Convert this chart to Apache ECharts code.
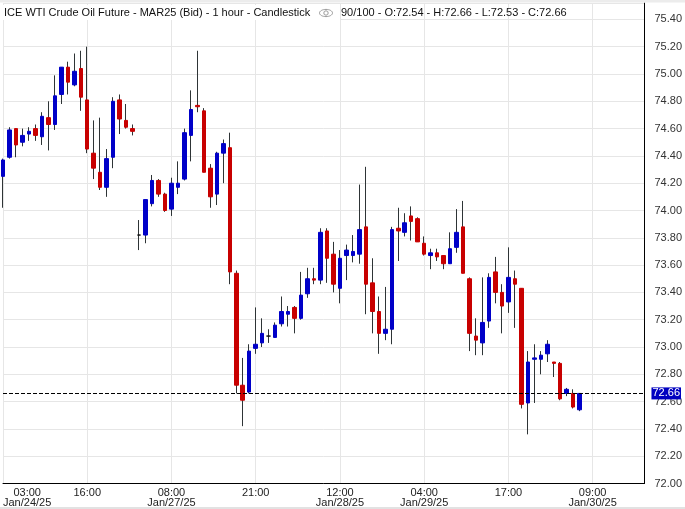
<!DOCTYPE html>
<html>
<head>
<meta charset="utf-8">
<script src="https://cdn.jsdelivr.net/npm/echarts@6/dist/echarts.min.js"></script>
<style>
  html, body { margin: 0; padding: 0; background: #fff; }
  #chart { width: 685px; height: 509px; }
</style>
</head>
<body>
<div id="chart"></div>
<script>
// ---- data (hourly bars, 90 of 100 slots used) ----
const slotCount = 100;
const categories = Array.from({ length: slotCount }, (_, i) => 'bar' + i);

const opens  = [74.25,74.39,74.60,74.50,74.56,74.60,74.54,74.68,74.63,74.85,
                75.05,74.92,75.04,74.81,74.42,74.28,74.17,74.39,74.81,74.66,
                74.60,73.82,73.82,74.05,74.22,74.12,74.01,74.17,74.23,74.55,
                74.77,74.73,74.31,74.12,74.42,74.46,73.54,72.72,72.67,72.99,
                73.03,73.08,73.07,73.17,73.24,73.29,73.21,73.39,73.50,73.49,
                73.85,73.68,73.43,73.67,73.67,73.68,73.88,73.47,73.26,73.10,
                73.13,73.87,73.84,73.96,73.94,73.76,73.67,73.69,73.67,73.61,
                73.73,73.88,73.50,73.08,73.03,73.19,73.55,73.40,73.33,73.50,
                73.43,72.59,72.91,72.91,72.95,72.89,72.88,72.66,72.66,72.54];
const closes = [74.37,74.59,74.48,74.55,74.58,74.55,74.69,74.63,74.84,75.05,
                74.94,75.02,74.83,74.45,74.31,74.17,74.38,74.80,74.67,74.61,
                74.58,73.82,74.08,74.22,74.12,74.00,74.20,74.20,74.57,74.74,
                74.76,74.28,74.10,74.42,74.49,73.55,72.72,72.61,72.97,73.02,
                73.10,73.08,73.16,73.26,73.26,73.21,73.38,73.50,73.49,73.84,
                73.65,73.46,73.65,73.71,73.70,73.86,73.46,73.26,73.10,73.13,
                73.86,73.85,73.91,73.92,73.77,73.68,73.69,73.66,73.61,73.72,
                73.84,73.54,73.10,73.05,73.18,73.51,73.40,73.30,73.51,73.46,
                72.58,72.89,72.92,72.94,73.02,72.88,72.62,72.69,72.56,72.66];
const lows   = [74.02,74.38,74.39,74.47,74.51,74.51,74.48,74.44,74.59,74.78,
                74.85,74.91,74.73,74.42,74.23,74.15,74.10,74.31,74.56,74.60,
                74.55,73.71,73.76,74.03,74.10,73.99,73.96,74.12,74.22,74.36,
                74.72,74.28,74.02,74.04,74.20,73.46,72.66,72.42,72.66,72.95,
                73.00,73.03,73.07,73.15,73.15,73.10,73.20,73.36,73.46,73.46,
                73.47,73.40,73.32,73.49,73.62,73.61,73.24,73.10,72.95,73.05,
                73.02,73.63,73.81,73.78,73.77,73.67,73.57,73.63,73.57,73.61,
                73.69,73.54,72.97,72.94,72.94,73.14,73.32,73.10,73.25,73.14,
                72.55,72.36,72.59,72.80,72.89,72.78,72.61,72.64,72.55,72.53];
const highs  = [74.38,74.61,74.60,74.60,74.61,74.63,74.72,74.80,74.99,75.05,
                75.09,75.15,75.17,75.20,74.66,74.68,74.45,74.83,74.85,74.78,
                74.63,73.93,74.08,74.26,74.23,74.13,74.24,74.36,74.60,74.88,
                75.17,74.75,74.34,74.43,74.52,74.57,73.56,72.92,73.02,73.29,
                73.21,73.13,73.18,73.37,73.30,73.30,73.55,73.58,73.58,73.87,
                73.87,73.77,73.71,73.75,73.82,74.19,74.32,73.65,73.37,73.44,
                73.88,74.02,73.98,74.03,73.95,73.81,73.72,73.72,73.67,73.84,
                74.01,74.07,73.51,73.21,73.51,73.54,73.66,73.46,73.73,73.56,
                73.43,72.97,73.02,72.97,73.05,72.89,72.89,72.70,72.69,72.66];

const lastPrice = 72.66;

// x-axis tick labels (slot index -> time / date)
const tickIndex = [0, 13, 26, 39, 52, 65, 78, 91];
const tickTime  = ['03:00', '16:00', '08:00', '21:00', '12:00', '04:00', '17:00', '09:00'];
const tickDate  = ['Jan/24/25', '', 'Jan/27/25', '', 'Jan/28/25', 'Jan/29/25', '', 'Jan/30/25'];

// y-axis ticks
const yMin = 72.0, yTop = 75.52, yStep = 0.2;

const headerTitle = 'ICE WTI Crude Oil Future - MAR25 (Bid) - 1 hour - Candlestick';
const headerInfo  = '90/100 - O:72.54 - H:72.66 - L:72.53 - C:72.66';

// ---- build ----
const ohlc = opens.map((o, i) => [o, closes[i], lows[i], highs[i]]);
const bodies = opens.map((o, i) => {
  const c = closes[i];
  return [o, c, Math.min(o, c), Math.max(o, c)];
});

const UP = '#0000c8', DOWN = '#c80000', WICK = '#2e3436';
const FONT = "'Liberation Sans', Arial, sans-serif";

const chart = echarts.init(document.getElementById('chart'), null, { renderer: 'canvas' });

const isTick = (i) => tickIndex.indexOf(i) >= 0;

chart.setOption({
  animation: false,
  backgroundColor: '#fff',
  textStyle: { fontFamily: FONT },
  grid: { left: 1, right: 40.5, top: 3, bottom: 25.5, containLabel: false },
  xAxis: {
    type: 'category',
    data: categories,
    boundaryGap: false,
    axisLine: { show: true, onZero: false, lineStyle: { color: '#000', width: 1 } },
    axisTick: { show: false },
    splitLine: { show: true, interval: (i) => isTick(i), lineStyle: { color: '#e6e6e6', width: 1 } },
    axisLabel: {
      interval: (i) => isTick(i),
      margin: 4,
      alignMinLabel: 'left',
      color: '#222',
      fontSize: 11,
      fontFamily: FONT,
      formatter: (value) => {
        const idx = categories.indexOf(value);
        const k = tickIndex.indexOf(idx);
        if (k < 0) return '';
        return tickDate[k] ? '{t|' + tickTime[k] + '}\n{d|' + tickDate[k] + '}' : '{t|' + tickTime[k] + '}';
      },
      rich: {
        t: { align: 'center', fontSize: 11, lineHeight: 10.5, color: '#222', fontFamily: FONT },
        d: { align: 'center', fontSize: 11, lineHeight: 10.5, color: '#222', fontFamily: FONT }
      }
    }
  },
  yAxis: {
    type: 'value',
    position: 'right',
    min: yMin,
    max: yTop,
    interval: yStep,
    axisLine: { show: true, lineStyle: { color: '#000', width: 1 } },
    axisTick: { show: false },
    splitLine: { show: true, lineStyle: { color: '#e6e6e6', width: 1 } },
    axisLabel: {
      margin: 10,
      showMaxLabel: false,
      color: '#333',
      fontSize: 11,
      fontFamily: FONT,
      formatter: (v) => v.toFixed(2)
    }
  },
  series: [
    {
      name: 'wick',
      type: 'candlestick',
      data: ohlc,
      clip: false,
      barWidth: 1,
      z: 2,
      silent: true,
      itemStyle: {
        color: WICK, color0: WICK,
        borderColor: WICK, borderColor0: WICK, borderColorDoji: WICK,
        borderWidth: 1
      }
    },
    {
      name: 'body',
      type: 'candlestick',
      data: bodies,
      clip: false,
      barWidth: 4,
      z: 3,
      silent: true,
      itemStyle: {
        color: UP, color0: DOWN,
        borderColor: UP, borderColor0: DOWN, borderColorDoji: '#111',
        borderWidth: 1
      },
      markLine: {
        silent: true,
        symbol: ['none', 'none'],
        animation: false,
        lineStyle: { color: '#000', type: [4, 2], width: 1 },
        label: {
          show: true,
          position: 'end',
          distance: 7,
          formatter: lastPrice.toFixed(2),
          color: '#fff',
          backgroundColor: '#0000c0',
          padding: [1, 1, 0, 1],
          fontSize: 11,
          fontFamily: FONT
        },
        data: [{ yAxis: lastPrice }]
      }
    }
  ],
  graphic: [
    { type: 'rect', z: 100, silent: true, shape: { x: 0, y: 0, width: 685, height: 2.5 }, style: { fill: '#ececec' } },
    { type: 'rect', z: 100, silent: true, shape: { x: 0, y: 507, width: 685, height: 2 }, style: { fill: '#e2e2e2' } },
    {
      type: 'text', z: 100, silent: true, x: 0, y: 5,
      style: {
        text: headerTitle, fill: '#111', font: '11px ' + FONT,
        backgroundColor: '#fff', padding: [2, 4, 2, 4], width: 332
      }
    },
    { type: 'ellipse', z: 101, silent: true, shape: { cx: 326, cy: 13, rx: 6.5, ry: 3.6 }, style: { fill: 'none', stroke: '#9a9a9a', lineWidth: 1 } },
    { type: 'circle', z: 101, silent: true, shape: { cx: 326, cy: 13, r: 2.2 }, style: { fill: 'none', stroke: '#9a9a9a', lineWidth: 1 } },
    {
      type: 'text', z: 100, silent: true, x: 341, y: 7.5,
      style: { text: headerInfo, fill: '#111', font: '11px ' + FONT }
    }
  ]
});
</script>
</body>
</html>
